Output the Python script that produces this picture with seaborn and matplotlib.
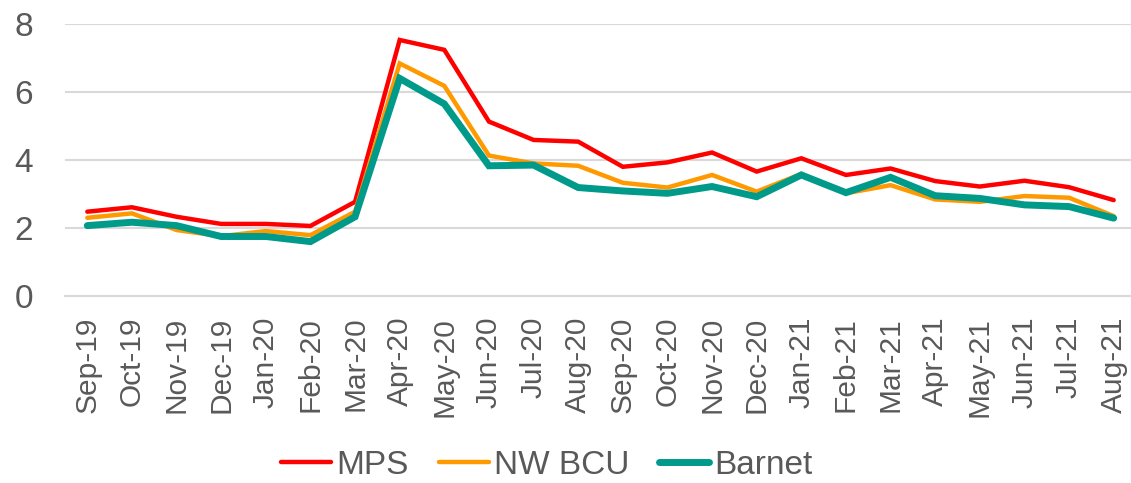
import numpy as np
import pandas as pd
import seaborn as sns
import matplotlib.pyplot as plt
from matplotlib.ticker import FixedLocator

months = ['Sep-19', 'Oct-19', 'Nov-19', 'Dec-19', 'Jan-20', 'Feb-20', 'Mar-20', 'Apr-20',
          'May-20', 'Jun-20', 'Jul-20', 'Aug-20', 'Sep-20', 'Oct-20', 'Nov-20', 'Dec-20',
          'Jan-21', 'Feb-21', 'Mar-21', 'Apr-21', 'May-21', 'Jun-21', 'Jul-21', 'Aug-21']

mps = [2.48, 2.61, 2.33, 2.12, 2.12, 2.06, 2.77, 7.53, 7.24, 5.13, 4.59, 4.54,
       3.80, 3.93, 4.22, 3.66, 4.05, 3.56, 3.75, 3.38, 3.22, 3.39, 3.20, 2.82]
nw_bcu = [2.30, 2.43, 1.94, 1.76, 1.91, 1.79, 2.48, 6.84, 6.18, 4.13, 3.90, 3.83,
          3.33, 3.19, 3.56, 3.07, 3.59, 3.02, 3.26, 2.84, 2.77, 2.94, 2.89, 2.35]
barnet = [2.07, 2.17, 2.07, 1.75, 1.75, 1.60, 2.33, 6.40, 5.65, 3.83, 3.85, 3.19,
          3.09, 3.02, 3.22, 2.92, 3.56, 3.04, 3.49, 2.95, 2.87, 2.68, 2.63, 2.29]

series = {'MPS': mps, 'NW BCU': nw_bcu, 'Barnet': barnet}
colors = {'MPS': '#FF0000', 'NW BCU': '#FF9900', 'Barnet': '#009A8A'}
widths = {'MPS': 3.2, 'NW BCU': 3.2, 'Barnet': 5.0}

df = pd.DataFrame(series)
df['idx'] = np.arange(len(months))
long_df = df.melt(id_vars='idx', var_name='Series', value_name='Value')

sns.set_style('white')
plt.rcParams['font.family'] = ['Liberation Sans', 'DejaVu Sans']

fig = plt.figure(figsize=(11.31, 4.83), dpi=100)
ax = fig.add_axes([65 / 1131, 1 - 296 / 483, (1136 - 65) / 1131, 272 / 483])

for name in series:
    sns.lineplot(data=long_df[long_df['Series'] == name], x='idx', y='Value',
                 color=colors[name], linewidth=widths[name], label=name, ax=ax,
                 solid_joinstyle='miter', zorder=3)

ax.set_xlim(-0.5, len(months) - 0.5)
ax.set_ylim(0, 8)
ax.set_yticks([0, 2, 4, 6, 8])
ax.yaxis.grid(True, color='#D9D9D9', linewidth=1.5)
ax.set_axisbelow(True)
for s in ['top', 'right', 'left']:
    ax.spines[s].set_visible(False)
ax.spines['bottom'].set_color('#D9D9D9')
ax.spines['bottom'].set_linewidth(1.5)

ax.set_xticks(np.arange(len(months)))
ax.set_xticklabels(months, rotation=90)
ax.xaxis.set_minor_locator(FixedLocator(np.arange(len(months) + 1) - 0.5))
ax.tick_params(axis='x', which='major', length=0, labelsize=21.5, labelcolor='#595959', pad=15)
ax.tick_params(axis='x', which='minor', length=7, width=1.5, color='#D9D9D9')
ax.tick_params(axis='y', length=0, labelsize=24, labelcolor='#595959', pad=23)
ax.set_xlabel('')
ax.set_ylabel('')

leg = ax.legend(loc='center', bbox_to_anchor=(547 / 1131, 1 - 465 / 483),
                bbox_transform=fig.transFigure, ncol=3, frameon=False,
                fontsize=24, handlelength=1.5, columnspacing=0.9, handletextpad=0.15)
for t in leg.get_texts():
    t.set_color('#595959')

fig.savefig('out.png', dpi=100)
